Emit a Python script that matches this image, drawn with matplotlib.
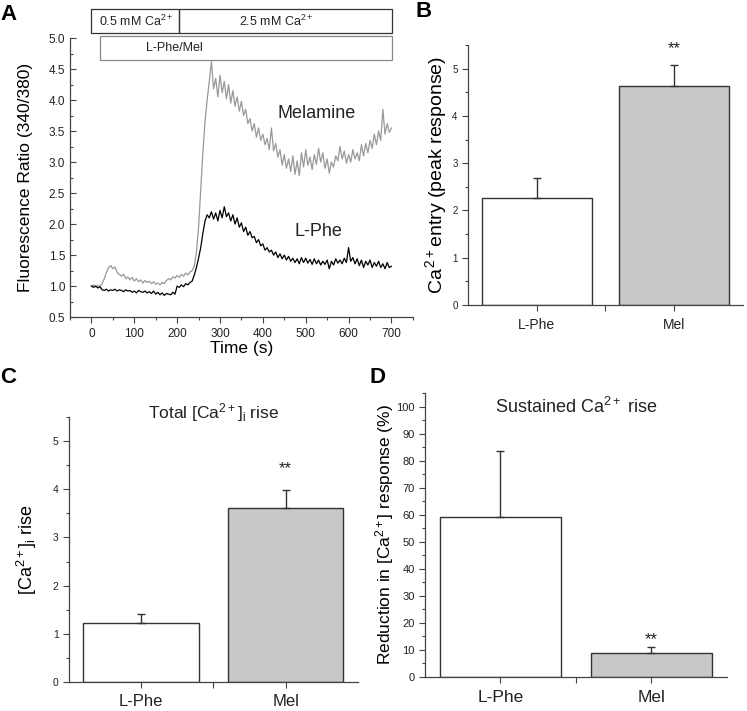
import matplotlib
matplotlib.use("Agg")
import matplotlib.pyplot as plt
import matplotlib.transforms as mtransforms
from matplotlib.patches import Rectangle
from matplotlib.ticker import MultipleLocator
import numpy as np

plt.rcParams["font.family"] = ["Liberation Sans", "DejaVu Sans"]
plt.rcParams["mathtext.fontset"] = "custom"
plt.rcParams["mathtext.rm"] = "Liberation Sans"
plt.rcParams["mathtext.it"] = "Liberation Sans:italic"

time_s = np.arange(0, 701, 5)
melamine = [
    1.00, 1.02, 0.99, 1.01, 1.00, 1.04,
    1.12, 1.22, 1.30, 1.33, 1.28, 1.31,
    1.22, 1.19, 1.16, 1.19, 1.12, 1.15, 1.10, 1.14,
    1.08, 1.12, 1.07, 1.10, 1.05, 1.09, 1.06, 1.08, 1.04, 1.07, 1.03, 1.05,
    1.02, 1.06, 1.04, 1.09, 1.12, 1.10, 1.15, 1.13,
    1.17, 1.14, 1.19, 1.16, 1.21, 1.18, 1.23, 1.25,
    1.32, 1.55, 1.95, 2.55, 3.15, 3.65, 4.00, 4.30,
    4.62, 4.18, 4.35, 4.05, 4.40, 4.12, 4.30, 4.02,
    4.25, 3.95, 4.15, 3.90, 4.05, 3.82, 3.98, 3.75,
    3.85, 3.62, 3.70, 3.50, 3.62, 3.40, 3.55, 3.35,
    3.45, 3.28, 3.38, 3.20, 3.55, 3.18, 3.30, 3.08,
    3.20, 2.95, 3.12, 2.90, 3.05, 2.85, 3.10, 2.80,
    3.02, 2.78, 3.15, 2.92, 3.20, 2.95, 3.08, 2.88,
    3.12, 2.96, 3.22, 3.00, 3.15, 2.90, 3.05, 2.82,
    3.00, 2.92, 3.10, 3.02, 3.25, 3.05, 3.18, 2.98,
    3.12, 3.00, 3.20, 3.05, 3.15, 3.02, 3.28, 3.10,
    3.30, 3.15, 3.35, 3.22, 3.45, 3.28, 3.50, 3.35,
    3.85, 3.45, 3.62, 3.48, 3.55,
]
lphe = [
    1.00, 0.98, 1.00, 0.97, 0.99, 0.94,
    0.93, 0.95, 0.92, 0.94, 0.93, 0.95,
    0.92, 0.94, 0.93, 0.91, 0.94, 0.92, 0.93, 0.90,
    0.92, 0.89, 0.93, 0.91, 0.90, 0.92, 0.89, 0.91, 0.88, 0.92, 0.87, 0.90,
    0.86, 0.89, 0.85, 0.88, 0.87, 0.86, 0.90, 0.87,
    1.00, 0.98, 1.02, 0.99, 1.04, 1.02, 1.06, 1.08,
    1.18, 1.30, 1.45, 1.62, 1.85, 2.05, 2.15, 2.10,
    2.20, 2.08, 2.18, 2.05, 2.22, 2.10, 2.28, 2.12,
    2.18, 2.05, 2.15, 2.00, 2.10, 1.95, 2.02, 1.88,
    1.95, 1.82, 1.88, 1.78, 1.80, 1.70, 1.75, 1.65,
    1.68, 1.58, 1.62, 1.55, 1.58, 1.50, 1.55, 1.46,
    1.52, 1.44, 1.50, 1.42, 1.48, 1.40, 1.45, 1.38,
    1.44, 1.36, 1.46, 1.38, 1.45, 1.37, 1.43, 1.35,
    1.44, 1.36, 1.42, 1.34, 1.40, 1.35, 1.42, 1.28,
    1.40, 1.34, 1.44, 1.37, 1.42, 1.36, 1.45, 1.38,
    1.62, 1.40, 1.46, 1.36, 1.44, 1.33, 1.42, 1.30,
    1.40, 1.34, 1.42, 1.30, 1.38, 1.32, 1.40, 1.30,
    1.36, 1.28, 1.38, 1.30, 1.32,
]

# --- bar panels (mean, upper SEM)
groups = ["L-Phe", "Mel"]
peak_mean = [2.26, 4.63]
peak_err = [0.42, 0.44]
total_mean = [1.23, 3.62]
total_err = [0.18, 0.36]
sustained_mean = [59.2, 8.7]
sustained_err = [24.5, 2.4]

AX_COL = "#444444"
TXT_COL = "#222222"
BAR_COLORS = ["white", "#c8c8c8"]

fig = plt.figure(figsize=(7.47, 7.11), dpi=100)


def style_axes(ax):
    for s in ("top", "right"):
        ax.spines[s].set_visible(False)
    for s in ("left", "bottom"):
        ax.spines[s].set_color(AX_COL)
        ax.spines[s].set_linewidth(0.9)
    ax.tick_params(which="both", colors=AX_COL, labelcolor=TXT_COL, width=0.8)


# ---------------- A
axA = fig.add_axes([0.0937, 0.554, 0.459, 0.3925])
axA.plot(time_s, melamine, color="#999999", lw=0.9)
axA.plot(time_s, lphe, color="black", lw=0.9)
axA.set_xlim(-50, 750)
axA.set_ylim(0.5, 5.0)
axA.set_xticks(range(0, 701, 100))
axA.xaxis.set_minor_locator(MultipleLocator(50))
axA.yaxis.set_major_locator(MultipleLocator(0.5))
axA.yaxis.set_minor_locator(MultipleLocator(0.25))
axA.set_yticklabels([f"{v:.1f}" for v in axA.get_yticks()])
style_axes(axA)
axA.tick_params(axis="y", which="both", direction="in")
axA.tick_params(axis="x", which="both", direction="out")
axA.tick_params(which="major", length=4, labelsize=8.5)
axA.tick_params(which="minor", length=2)
axA.set_ylim(0.5, 5.0)
axA.set_xlabel("Time (s)", fontsize=12.5, labelpad=1)
axA.set_ylabel("Fluorescence Ratio (340/380)", fontsize=12.5, labelpad=11)
axA.text(525, 3.78, "Melamine", fontsize=13, ha="center", va="center", color=TXT_COL)
axA.text(530, 1.88, "L-Phe", fontsize=13, ha="center", va="center", color=TXT_COL)

trA = mtransforms.blended_transform_factory(axA.transData, axA.transAxes)
for x0, x1, label, xc in [(0, 205, "0.5 mM Ca$^{2+}$", 105), (205, 702, "2.5 mM Ca$^{2+}$", 432)]:
    axA.add_patch(Rectangle((x0, 1.018), x1 - x0, 0.086, transform=trA, clip_on=False,
                            fill=False, edgecolor="#333333", lw=0.9))
    axA.text(xc, 1.061, label, transform=trA, fontsize=9, ha="center", va="center", color=TXT_COL)
axA.add_patch(Rectangle((19, 0.921), 683, 0.086, transform=trA, clip_on=False,
                        facecolor="white", edgecolor="#888888", lw=0.9, zorder=3))
axA.text(128, 0.964, "L-Phe/Mel", transform=trA, fontsize=9, ha="left", va="center",
         color=TXT_COL, zorder=4)


def bar_panel(rect, means, errs, ylim, major, minor, ylabel, star_y, ylabsize, ticksize, xlabsize):
    ax = fig.add_axes(rect)
    pos = [1, 2]
    ax.bar(pos, means, width=0.8, color=BAR_COLORS, edgecolor="#333333", linewidth=1.0, zorder=2)
    ax.errorbar(pos, means, yerr=[[0, 0], errs], fmt="none", ecolor="#333333",
                elinewidth=1.0, capsize=3, capthick=1.0, zorder=3)
    ax.set_xlim(0.5, 2.5)
    ax.set_ylim(*ylim)
    ax.set_xticks([1, 1.5, 2])
    ax.set_xticklabels([groups[0], "", groups[1]], fontsize=xlabsize)
    ax.yaxis.set_major_locator(MultipleLocator(major))
    ax.yaxis.set_minor_locator(MultipleLocator(minor))
    style_axes(ax)
    ax.tick_params(which="both", direction="out")
    ax.tick_params(axis="y", which="major", length=4, labelsize=ticksize)
    ax.tick_params(axis="y", which="minor", length=2)
    ax.tick_params(axis="x", length=4, pad=5)
    ax.set_ylim(*ylim)
    ax.set_ylabel(ylabel, fontsize=ylabsize)
    ax.text(2, star_y, "**", ha="center", va="center", fontsize=12, color=TXT_COL)
    return ax


axB = bar_panel([0.6265, 0.571, 0.368, 0.3657], peak_mean, peak_err, (0, 5.5), 1, 0.5,
                "Ca$^{\\,2+}$entry (peak response)", 5.42, 14, 7, 10)
axB.yaxis.labelpad = 2

axC = bar_panel([0.0924, 0.0408, 0.3866, 0.3727], total_mean, total_err, (0, 5.5), 1, 0.5,
                "[Ca$^{2+}$]$_{\\rm i}$ rise", 4.42, 13, 7.5, 12)
axC.yaxis.labelpad = 10
axC.text(0.5, 1.015, "Total [Ca$^{2+}$]$_{\\rm i}$ rise", transform=axC.transAxes, ha="center",
         va="center", fontsize=12.5, color=TXT_COL)

axD = bar_panel([0.569, 0.0478, 0.404, 0.3994], sustained_mean, sustained_err, (0, 105), 10, 5,
                "Reduction in [Ca$^{2+}$] response (%)", 14, 12.5, 8, 12.5)
axD.yaxis.labelpad = 0
axD.text(0.5, 0.95, "Sustained Ca$^{2+}$ rise", transform=axD.transAxes, ha="center",
         va="center", fontsize=13, color=TXT_COL)

for x, y, s in [(0.0, 0.994, "A"), (0.556, 0.999, "B"), (0.0, 0.484, "C"), (0.494, 0.484, "D")]:
    fig.text(x, y, s, fontsize=16, fontweight="bold", va="top", ha="left")

fig.savefig("out.png", dpi=100)
